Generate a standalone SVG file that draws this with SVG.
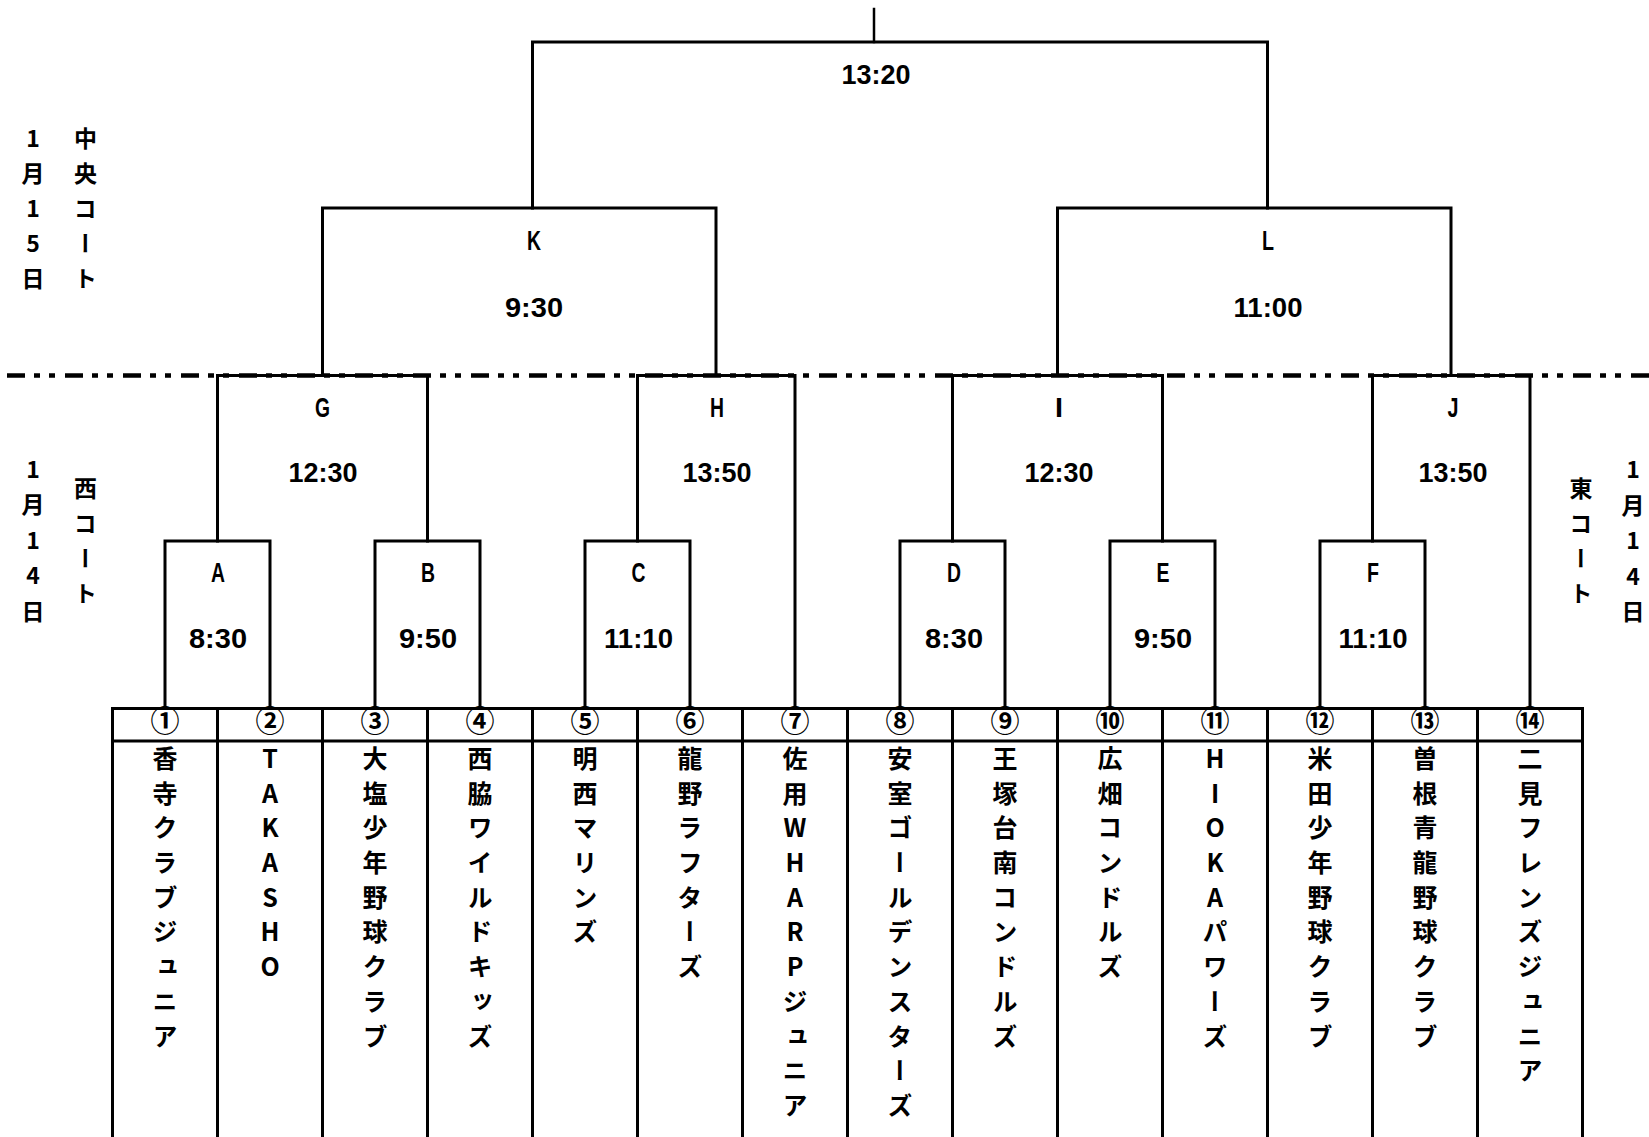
<svg xmlns="http://www.w3.org/2000/svg" width="1649" height="1137" viewBox="0 0 1649 1137">
<style>
.br{fill:none;stroke:#000;stroke-width:3;stroke-linecap:square}
.tb{fill:none;stroke:#000;stroke-width:3}
.dash{fill:none;stroke:#000;stroke-width:4.5;stroke-dasharray:18 9 6 9 6 10;stroke-dashoffset:51}
.lb{font-family:"Liberation Sans",Arial,sans-serif;font-weight:700;font-size:28px;text-anchor:middle;fill:#000}
.num{font-family:"Noto Sans CJK JP",sans-serif;font-weight:700;font-size:29px;text-anchor:middle;fill:#000}
.nm{font-family:"Noto Sans CJK JP",sans-serif;font-weight:700;font-size:25px;writing-mode:vertical-rl;text-orientation:upright;letter-spacing:9.7px;fill:#000}
.sd{font-family:"Noto Sans CJK JP",sans-serif;font-weight:700;font-size:23px;writing-mode:vertical-rl;text-orientation:upright;letter-spacing:12px;fill:#000}
</style>
<rect width="1649" height="1137" fill="#fff"/>

<g id="court-divider">
<line class="dash" x1="0" y1="375.5" x2="1649" y2="375.5"/>
</g>

<g id="connectors">
<path class="br" d="M874 9V42" style="stroke-width:2.5"/>
<path class="br" d="M532.5 208V42H1267.5V208"/>
<path class="br" d="M322.5 375.5V208H716V375.5"/>
<path class="br" d="M1057.5 375.5V208H1451V375.5"/>
<path class="br" d="M217.5 541V375.5H427.5V541"/>
<path class="br" d="M637.5 541V375.5H795V708"/>
<path class="br" d="M952.5 541V375.5H1162.5V541"/>
<path class="br" d="M1372.5 541V375.5H1530V708"/>
<path class="br" d="M165 708V541H270V708"/>
<path class="br" d="M375 708V541H480V708"/>
<path class="br" d="M585 708V541H690V708"/>
<path class="br" d="M900 708V541H1005V708"/>
<path class="br" d="M1110 708V541H1215V708"/>
<path class="br" d="M1320 708V541H1425V708"/>
</g>

<g id="match-final"><text class="lb" x="876" y="83.5" textLength="69" lengthAdjust="spacingAndGlyphs">13:20</text></g>
<g id="match-K"><text class="lb" x="534" y="250" textLength="14" lengthAdjust="spacingAndGlyphs">K</text><text class="lb" x="534" y="317" textLength="58" lengthAdjust="spacingAndGlyphs">9:30</text></g>
<g id="match-L"><text class="lb" x="1268" y="250" textLength="12" lengthAdjust="spacingAndGlyphs">L</text><text class="lb" x="1268" y="317" textLength="69" lengthAdjust="spacingAndGlyphs">11:00</text></g>
<g id="match-G"><text class="lb" x="322.5" y="417" textLength="15" lengthAdjust="spacingAndGlyphs">G</text><text class="lb" x="323" y="482" textLength="69" lengthAdjust="spacingAndGlyphs">12:30</text></g>
<g id="match-H"><text class="lb" x="717" y="417" textLength="14" lengthAdjust="spacingAndGlyphs">H</text><text class="lb" x="717" y="482" textLength="69" lengthAdjust="spacingAndGlyphs">13:50</text></g>
<g id="match-I"><text class="lb" x="1059" y="417" textLength="8" lengthAdjust="spacingAndGlyphs">I</text><text class="lb" x="1059" y="482" textLength="69" lengthAdjust="spacingAndGlyphs">12:30</text></g>
<g id="match-J"><text class="lb" x="1453" y="417" textLength="11" lengthAdjust="spacingAndGlyphs">J</text><text class="lb" x="1453" y="482" textLength="69" lengthAdjust="spacingAndGlyphs">13:50</text></g>
<g id="match-A"><text class="lb" x="218" y="582" textLength="14" lengthAdjust="spacingAndGlyphs">A</text><text class="lb" x="218" y="648" textLength="58" lengthAdjust="spacingAndGlyphs">8:30</text></g>
<g id="match-B"><text class="lb" x="428" y="582" textLength="14" lengthAdjust="spacingAndGlyphs">B</text><text class="lb" x="428" y="648" textLength="58" lengthAdjust="spacingAndGlyphs">9:50</text></g>
<g id="match-C"><text class="lb" x="638.5" y="582" textLength="14" lengthAdjust="spacingAndGlyphs">C</text><text class="lb" x="638.5" y="648" textLength="69" lengthAdjust="spacingAndGlyphs">11:10</text></g>
<g id="match-D"><text class="lb" x="954" y="582" textLength="14" lengthAdjust="spacingAndGlyphs">D</text><text class="lb" x="954" y="648" textLength="58" lengthAdjust="spacingAndGlyphs">8:30</text></g>
<g id="match-E"><text class="lb" x="1163" y="582" textLength="13" lengthAdjust="spacingAndGlyphs">E</text><text class="lb" x="1163" y="648" textLength="58" lengthAdjust="spacingAndGlyphs">9:50</text></g>
<g id="match-F"><text class="lb" x="1373" y="582" textLength="12" lengthAdjust="spacingAndGlyphs">F</text><text class="lb" x="1373" y="648" textLength="69" lengthAdjust="spacingAndGlyphs">11:10</text></g>

<g id="side-labels">
<text class="sd" x="33" y="126.5">1月15日</text>
<text class="sd" x="85.5" y="126.5">中央コート</text>
<text class="sd" x="33" y="457.5" style="letter-spacing:12.5px">1月14日</text>
<text class="sd" x="85.5" y="476.5">西コート</text>
<text class="sd" x="1581" y="477">東コート</text>
<text class="sd" x="1633" y="458" style="letter-spacing:12.5px">1月14日</text>
</g>

<g id="team-table">
<path class="tb" d="M112.5 1140V708.5H1582.5V1140M112.5 741H1582.5"/>
<path class="tb" d="M217.5 708.5V1140M322.5 708.5V1140M427.5 708.5V1140M532.5 708.5V1140M637.5 708.5V1140M742.5 708.5V1140M847.5 708.5V1140M952.5 708.5V1140M1057.5 708.5V1140M1162.5 708.5V1140M1267.5 708.5V1140M1372.5 708.5V1140M1477.5 708.5V1140"/>
</g>

<g id="team-1"><text class="num" x="165" y="732">①</text><text class="nm" x="165" y="746">香寺クラブジュニア</text></g>
<g id="team-2"><text class="num" x="270" y="732">②</text><text class="nm" x="270" y="746">TAKASHO</text></g>
<g id="team-3"><text class="num" x="375" y="732">③</text><text class="nm" x="375" y="746">大塩少年野球クラブ</text></g>
<g id="team-4"><text class="num" x="480" y="732">④</text><text class="nm" x="480" y="746">西脇ワイルドキッズ</text></g>
<g id="team-5"><text class="num" x="585" y="732">⑤</text><text class="nm" x="585" y="746">明西マリンズ</text></g>
<g id="team-6"><text class="num" x="690" y="732">⑥</text><text class="nm" x="690" y="746">龍野ラフターズ</text></g>
<g id="team-7"><text class="num" x="795" y="732">⑦</text><text class="nm" x="795" y="746">佐用WHARPジュニア</text></g>
<g id="team-8"><text class="num" x="900" y="732">⑧</text><text class="nm" x="900" y="746">安室ゴールデンスターズ</text></g>
<g id="team-9"><text class="num" x="1005" y="732">⑨</text><text class="nm" x="1005" y="746">王塚台南コンドルズ</text></g>
<g id="team-10"><text class="num" x="1110" y="732">⑩</text><text class="nm" x="1110" y="746">広畑コンドルズ</text></g>
<g id="team-11"><text class="num" x="1215" y="732">⑪</text><text class="nm" x="1215" y="746">HIOKAパワーズ</text></g>
<g id="team-12"><text class="num" x="1320" y="732">⑫</text><text class="nm" x="1320" y="746">米田少年野球クラブ</text></g>
<g id="team-13"><text class="num" x="1425" y="732">⑬</text><text class="nm" x="1425" y="746">曽根青龍野球クラブ</text></g>
<g id="team-14"><text class="num" x="1530" y="732">⑭</text><text class="nm" x="1530" y="746">二見フレンズジュニア</text></g>
</svg>
